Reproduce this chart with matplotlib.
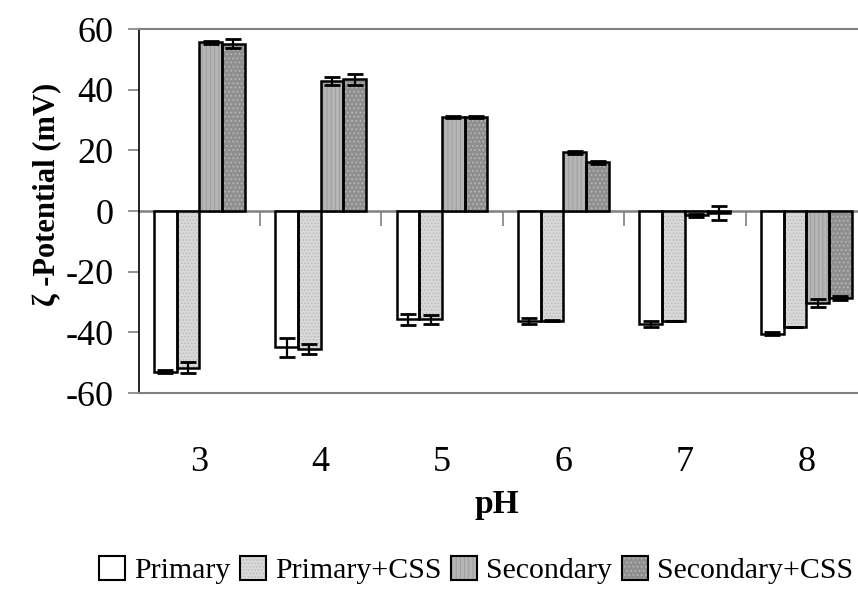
import matplotlib
matplotlib.use('Agg')
import matplotlib.pyplot as plt
import numpy as np
from matplotlib.patches import Patch
from matplotlib.legend_handler import HandlerTuple

categories = ['3', '4', '5', '6', '7', '8']
series_names = ['Primary', 'Primary+CSS', 'Secondary', 'Secondary+CSS']
primary = [-53.0, -44.9, -35.7, -36.3, -37.1, -40.4]
primary_err = [0.5, 3.1, 1.8, 1.1, 1.0, 0.5]
primary_css = [-51.6, -45.6, -35.7, -36.1, -36.4, -38.3]
primary_css_err = [1.7, 1.7, 1.5, 0.3, 0.0, 0.0]
secondary = [55.7, 42.9, 31.0, 19.3, -1.4, -30.3]
secondary_err = [0.5, 1.3, 0.3, 0.5, 0.5, 1.3]
secondary_css = [55.2, 43.5, 31.0, 16.0, -0.6, -28.7]
secondary_css_err = [1.4, 1.8, 0.3, 0.4, 2.3, 0.6]
yticks = [60, 40, 20, 0, -20, -40, -60]
ytick_labels = ['60', '40', '20', '0', '-20', '-40', '-60']

values = [primary, primary_css, secondary, secondary_css]
errors = [primary_err, primary_css_err, secondary_err, secondary_css_err]

plt.rcParams['font.family'] = ['Liberation Serif', 'DejaVu Serif']
plt.rcParams['hatch.linewidth'] = 0.7

fig = plt.figure(figsize=(8.58, 5.93), dpi=100)
W, H = 858, 593
ax = fig.add_axes([138.5 / W, 1 - 393 / H, (867 - 138.5) / W, (393 - 29) / H])

x = np.arange(len(categories))
w = 0.187
styles = [
    dict(fc='white', hatch=None, hc='white'),
    dict(fc='#d8d8d8', hatch='.....', hc='#bcbcbc'),
    dict(fc='#b5b5b5', hatch='||||', hc='#9e9e9e'),
    dict(fc='#8f8f8f', hatch='....', hc='#b8b8b8'),
]
handles = []
for i, (vals, errs, st) in enumerate(zip(values, errors, styles)):
    xs = x + (i - 1.5) * w
    ax.bar(xs, vals, w, color=st['fc'], edgecolor=st['hc'], hatch=st['hatch'],
           linewidth=0, zorder=2)
    ax.bar(xs, vals, w, fill=False, edgecolor='black', linewidth=1.8, zorder=3)
    ax.errorbar(xs, vals, yerr=errs, fmt='none', ecolor='black', elinewidth=1.6,
                capsize=6, capthick=2.0, zorder=4)
    p1 = Patch(facecolor=st['fc'], edgecolor=st['hc'], hatch=st['hatch'], linewidth=0)
    p2 = Patch(fill=False, edgecolor='black', linewidth=1.5)
    handles.append((p1, p2))

ax.set_xlim(-0.5, len(categories) - 0.5)
ax.set_ylim(-60, 60)
ax.set_yticks(yticks, ytick_labels)
ax.set_xticks(x, categories)

for s in ['top', 'bottom']:
    ax.spines[s].set_color('#808080')
    ax.spines[s].set_linewidth(1.5)
ax.spines['right'].set_visible(False)
ax.spines['left'].set_color('black')
ax.spines['left'].set_linewidth(1.2)

ax.tick_params(axis='x', length=0, pad=38, labelsize=26)
ax.tick_params(axis='y', length=8, width=1.2, color='#808080', direction='out',
               pad=10, labelsize=26)

sec = ax.secondary_xaxis(0.5)
sec.set_xticks(x[1:] - 0.5)
sec.set_xticklabels([])
sec.tick_params(axis='x', which='both', length=11, width=1.2, color='#808080',
                direction='in', labelbottom=False, labeltop=False)
for s in sec.spines.values():
    s.set_color('#808080')
    s.set_linewidth(1.8)
sec.set_zorder(1)

fig.text(48 / W, 1 - 194 / H, 'ζ -Potential (mV)', rotation=90, fontsize=22,
         fontweight='bold', ha='center', va='center')
fig.text(497 / W, 1 - 505 / H, 'pH', fontsize=24, fontweight='bold',
         ha='center', va='center')

fig.legend(handles, series_names, loc='center left',
           bbox_to_anchor=(99 / W, 1 - 570 / H), ncol=4, frameon=False,
           fontsize=21.5, handlelength=0.87, handleheight=0.87, handletextpad=0.3,
           columnspacing=0.33, borderaxespad=0, borderpad=0,
           handler_map={tuple: HandlerTuple(ndivide=1, pad=0)})

fig.savefig('out.png', dpi=100)
